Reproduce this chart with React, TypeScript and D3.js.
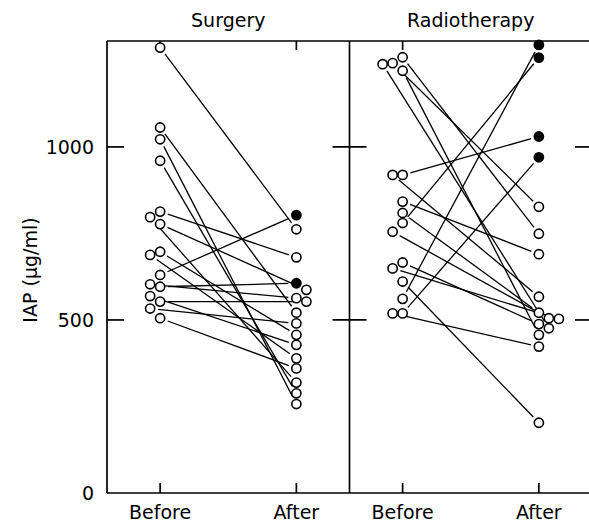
import React from 'react';
import * as d3 from 'd3';

const panels = ['Surgery', 'Radiotherapy'];
const phases = ['Before', 'After'];
const yTicks = [0, 500, 1000];

// paired values (µg/ml): index i of "before" is joined to index i of "after"
const surgeryBefore = [1287, 1056, 1022, 960, 813, 797, 777, 697, 688, 630, 603, 596, 569, 553, 533, 505];
const surgeryAfter = [762, 521, 257, 288, 681, 319, 587, 457, 389, 803, 563, 606, 428, 553, 490, 360];
const radioBefore = [1259, 1242, 1239, 1220, 919, 919, 842, 809, 780, 755, 666, 649, 611, 561, 519, 519];
const radioAfter = [749, 827, 476, 457, 1030, 567, 690, 521, 1258, 505, 488, 503, 203, 1295, 970, 423];

const W = 589;
const H = 524;
const FRAME = { left: 107, right: 592, top: 41, bottom: 493 };
const FONT = '"DejaVu Sans", sans-serif';
const R = 4.6;
const LANE = 10;
const MIN_GAP = 9.5;
const TRIM = 8;

export default function App() {
  const y = d3.scaleLinear().domain([0, 1306]).range([FRAME.bottom, FRAME.top]);
  const xPanel = d3.scaleBand<string>().domain(panels).range([FRAME.left, FRAME.right]);
  const xPhase = d3.scalePoint<string>().domain(phases).range([0, xPanel.bandwidth()]).padding(0.39);

  const datasets = [
    { name: 'Surgery', before: surgeryBefore, after: surgeryAfter },
    { name: 'Radiotherapy', before: radioBefore, after: radioAfter },
  ];

  const dodge = (values: number[], dir: number) => {
    const order = d3.range(values.length).sort((a, b) => values[b] - values[a] || a - b);
    const placed: { dx: number; y: number }[] = [];
    const off: number[] = new Array(values.length).fill(0);
    const lanes = [0, 1, 2, 3].map((l) => l * dir);
    for (const i of order) {
      const yi = y(values[i]);
      for (const l of lanes) {
        const dx = l * LANE;
        if (placed.every((p) => Math.hypot(p.dx - dx, p.y - yi) >= MIN_GAP)) {
          off[i] = dx;
          placed.push({ dx, y: yi });
          break;
        }
      }
    }
    return off;
  };

  const dividers = [FRAME.left, ...panels.slice(1).map((p) => xPanel(p)!), FRAME.right];

  return (
    <svg width={W} height={H} style={{ position: 'absolute', left: 0, top: 0, background: '#fff' }}>
      {/* frame */}
      <g stroke="#000" strokeWidth={1.7} fill="none">
        <line x1={FRAME.left} x2={FRAME.right} y1={FRAME.top} y2={FRAME.top} />
        <line x1={FRAME.left} x2={FRAME.right} y1={FRAME.bottom} y2={FRAME.bottom} />
        {dividers.map((x, i) => (
          <line key={i} x1={x} x2={x} y1={FRAME.top} y2={FRAME.bottom} />
        ))}
        {/* y ticks, inward on each vertical line */}
        {dividers.map((x, i) =>
          yTicks
            .filter((t) => t > 0)
            .map((t) => (
              <line
                key={`${i}-${t}`}
                x1={i === 0 ? x : x - 17}
                x2={i === dividers.length - 1 ? x : x + 17}
                y1={y(t)}
                y2={y(t)}
              />
            ))
        )}
        {/* category ticks top & bottom */}
        {panels.map((p) =>
          phases.map((ph) => {
            const x = xPanel(p)! + xPhase(ph)!;
            return (
              <g key={p + ph}>
                <line x1={x} x2={x} y1={FRAME.bottom} y2={FRAME.bottom - 10} />
                <line x1={x} x2={x} y1={FRAME.top} y2={FRAME.top + 9} />
              </g>
            );
          })
        )}
      </g>

      {/* y tick labels */}
      {yTicks.map((t) => (
        <text key={t} x={FRAME.left - 13} y={y(t)} dy="0.36em" textAnchor="end" fontFamily={FONT} fontSize={19}>
          {t}
        </text>
      ))}
      <text
        transform={`translate(${37},${FRAME.top + (FRAME.bottom - FRAME.top) / 2 + 3}) rotate(-90)`}
        textAnchor="middle"
        fontFamily={FONT}
        fontSize={19}
      >
        IAP (µg/ml)
      </text>

      {/* panel titles and category labels */}
      {panels.map((p) => (
        <g key={p}>
          <text
            x={xPanel(p)! + xPanel.bandwidth() / 2}
            y={27}
            textAnchor="middle"
            fontFamily={FONT}
            fontSize={19}
          >
            {p}
          </text>
          {phases.map((ph) => (
            <text
              key={ph}
              x={xPanel(p)! + xPhase(ph)!}
              y={519}
              textAnchor="middle"
              fontFamily={FONT}
              fontSize={19}
            >
              {ph}
            </text>
          ))}
        </g>
      ))}

      {/* paired data */}
      {datasets.map((ds) => {
        const x0 = xPanel(ds.name)!;
        const xb = x0 + xPhase('Before')!;
        const xa = x0 + xPhase('After')!;
        const ob = dodge(ds.before, -1);
        const oa = dodge(ds.after, 1);
        return (
          <g key={ds.name}>
            {ds.before.map((b, i) => {
              const x1 = xb + ob[i];
              const y1 = y(b);
              const x2 = xa + oa[i];
              const y2 = y(ds.after[i]);
              const len = Math.hypot(x2 - x1, y2 - y1);
              const ux = (x2 - x1) / len;
              const uy = (y2 - y1) / len;
              return (
                <line
                  key={`l${i}`}
                  x1={x1 + ux * TRIM}
                  y1={y1 + uy * TRIM}
                  x2={x2 - ux * TRIM}
                  y2={y2 - uy * TRIM}
                  stroke="#000"
                  strokeWidth={1.3}
                />
              );
            })}
            {ds.before.map((b, i) => (
              <circle key={`b${i}`} cx={xb + ob[i]} cy={y(b)} r={R} fill="#fff" stroke="#000" strokeWidth={1.6} />
            ))}
            {ds.after.map((a, i) => (
              <circle
                key={`a${i}`}
                cx={xa + oa[i]}
                cy={y(a)}
                r={R}
                fill={a > ds.before[i] ? '#000' : '#fff'}
                stroke="#000"
                strokeWidth={1.6}
              />
            ))}
          </g>
        );
      })}
    </svg>
  );
}
